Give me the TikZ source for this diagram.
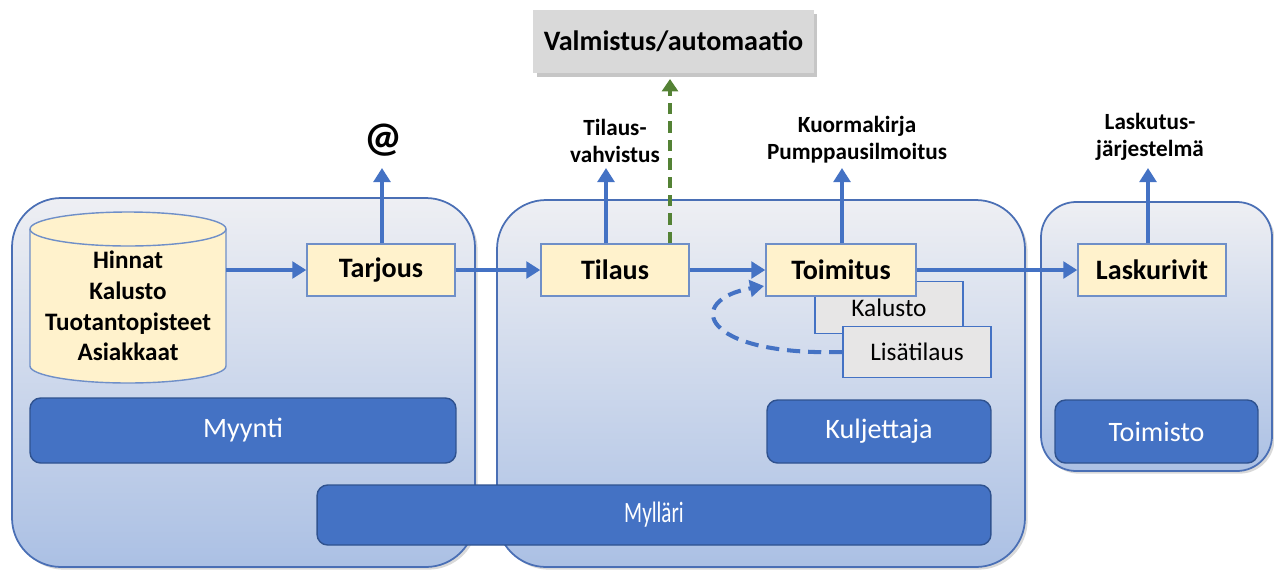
\documentclass[tikz,border=0pt]{standalone}
\usepackage{fontspec}
\usepackage{graphicx}
\setmainfont{Carlito}
\usetikzlibrary{arrows.meta,shadows}
\definecolor{boxfill}{HTML}{FFF2CC}
\definecolor{boxline}{HTML}{6F8FC8}
\definecolor{blu}{HTML}{4472C4}
\definecolor{bardraw}{HTML}{2F528F}
\definecolor{ctop}{HTML}{EEEFF3}
\definecolor{cbot}{HTML}{ABC0E4}
\definecolor{cline}{HTML}{4A6FB5}
\definecolor{gbox}{HTML}{E7E6E6}
\definecolor{valm}{HTML}{D9D9D9}
\definecolor{grn}{HTML}{548235}
\begin{document}
\begin{tikzpicture}[x=0.02cm,y=-0.02cm,
 container/.style={draw=cline, line width=1pt, top color=ctop, bottom color=cbot,
   drop shadow={shadow xshift=1.5pt, shadow yshift=-1.5pt, opacity=0.3}},
 procbox/.style={draw=boxline, fill=boxfill, line width=0.8pt, minimum width=2.96cm,
   minimum height=1.04cm, font=\fontsize{16}{19}\selectfont\bfseries, inner sep=0pt},
 graybox/.style={draw=blu, fill=gbox, line width=0.8pt, minimum width=2.96cm,
   minimum height=1.03cm, font=\fontsize{14.4}{17}\selectfont, inner sep=0pt},
 bar/.style={draw=bardraw, fill=blu, rounded corners=6pt, text=white,
   font=\fontsize{16}{19}\selectfont, inner sep=0pt, line width=0.8pt},
 flow/.style={draw=blu, line width=2.3pt, -{Triangle[length=8pt,width=9.5pt]}},
 lbl/.style={font=\fontsize{13.2}{15.3}\selectfont\bfseries, align=center, inner sep=0pt},
]
\useasboundingbox (0,0) rectangle (1274,569);

% containers
\path[container, rounded corners=28pt] (12,198) rectangle (475,567);
\path[container, rounded corners=28pt] (497,200) rectangle (1025,567);
\path[container, rounded corners=20pt] (1041,202) rectangle (1272,471);

% role bars
\node[bar, minimum width=8.52cm, minimum height=1.3cm] (myynti) at (243,430.5) {Myynti};
\node[bar, minimum width=4.48cm, minimum height=1.26cm] (kuljettaja) at (879,431.5) {Kuljettaja};
\node[bar, minimum width=4.06cm, minimum height=1.26cm] (toimisto) at (1156.5,431.5) {Toimisto};
\node[bar, minimum width=13.48cm, minimum height=1.2cm] (myllari) at (654,515) {\scalebox{0.75}[1.05]{Mylläri}};

% cylinder
\path[draw=boxline, fill=boxfill, line width=0.8pt]
  (30,229) -- (30,366) arc[start angle=180, end angle=360, x radius=1.96cm, y radius=0.34cm]
  -- (226,229) arc[start angle=0, end angle=180, x radius=1.96cm, y radius=0.34cm] -- cycle;
\draw[boxline, line width=0.8pt] (30,229) arc[start angle=180, end angle=360, x radius=1.96cm, y radius=0.34cm];
\node[align=center, font=\fontsize{14.3}{17.5}\selectfont\bfseries, inner sep=0pt, minimum width=3.92cm, minimum height=2.74cm] (db) at (128,306)
  {Hinnat\\Kalusto\\Tuotantopisteet\\Asiakkaat};

% top box
\node[fill=valm, drop shadow={shadow xshift=2pt, shadow yshift=-2.5pt, opacity=0.45},
  minimum width=5.62cm, minimum height=1.26cm, inner sep=0pt,
  font=\fontsize{16}{19}\selectfont\bfseries] (valm) at (673.5,41.5) {Valmistus/automaatio};

% process boxes
\node[graybox] (kalusto) at (889,307.5) {Kalusto};
\node[graybox] (lisa) at (917,352) {Lisätilaus};
\node[procbox] (tarjous) at (381,270) {Tarjous};
\node[procbox] (tilaus) at (615,270) {Tilaus};
\node[procbox, minimum width=3.0cm] (toimitus) at (841,270) {Toimitus};
\node[procbox] (lasku) at (1152,270) {Laskurivit};

% labels
\node[font=\fontsize{24}{27}\selectfont\bfseries, inner sep=0pt] (at) at (383,140) {@};
\node[lbl] (tv) at (615,141) {Tilaus-\\vahvistus};
\node[lbl] (kk) at (857,140) {Kuormakirja\\Pumppausilmoitus};
\node[lbl] (lj) at (1150,137) {Laskutus-\\järjestelmä};

% free arrow ends
\coordinate (e1) at (382,168);
\coordinate (e2) at (606,168);
\coordinate (e3) at (842,168);
\coordinate (e4) at (1148,168);
\coordinate (eg) at (670,79);
\coordinate (eloop) at (764,286);

% horizontal flow
\draw[flow] (db.east |- tarjous.west) -- (tarjous.west);
\draw[flow] (tarjous.east) -- (tilaus.west);
\draw[flow] (tilaus.east) -- (toimitus.west);
\draw[flow] (toimitus.east) -- (lasku.west);

% upward arrows
\draw[flow] (e1 |- tarjous.north) -- (e1);
\draw[flow] (e2 |- tilaus.north) -- (e2);
\draw[flow] (e3 |- toimitus.north) -- (e3);
\draw[flow] (e4 |- lasku.north) -- (e4);
\draw[grn, line width=2.8pt, dash pattern=on 6.5pt off 4pt, -{Triangle[length=7pt,width=9pt]}]
  (eg |- tilaus.north) -- (eg);

% loop back
\draw[blu, line width=2.3pt, dash pattern=on 7.5pt off 4.5pt, -{Triangle[length=8pt,width=9.5pt]}]
  (lisa.west) .. controls (700,356) and (684,300) .. (eloop);
\end{tikzpicture}
\end{document}
